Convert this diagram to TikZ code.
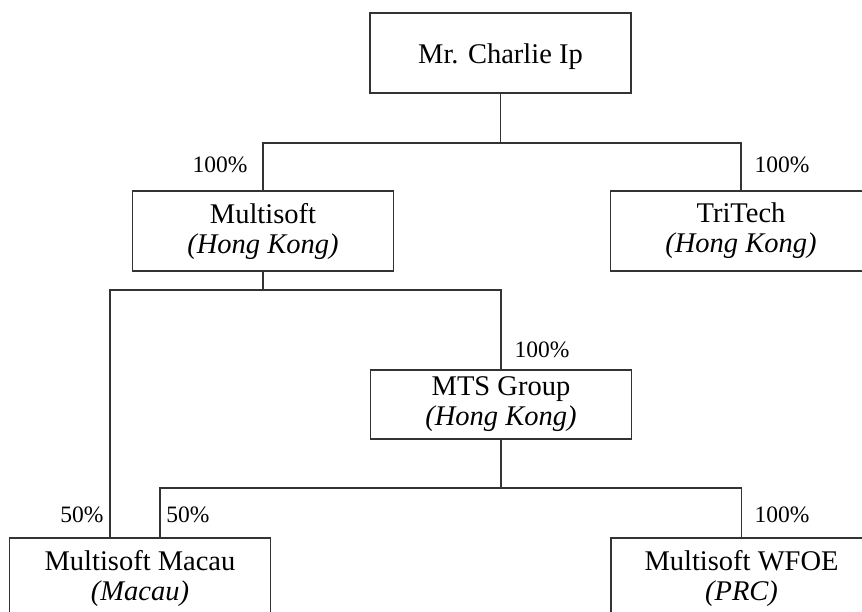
\documentclass[tikz,border=0pt]{standalone}
\usepackage{fontspec}
\setmainfont{Liberation Serif}
\begin{document}
\begin{tikzpicture}[x=1pt,y=-1pt,
  box/.style={draw=black!80,line width=1.2pt,minimum width=261pt,minimum height=80pt,
    align=center,inner sep=0pt,font=\fontsize{28.5}{30}\selectfont},
  pct/.style={inner sep=0pt,font=\fontsize{23.5}{26}\selectfont},
  link/.style={draw=black!80,line width=1.2pt}]
\useasboundingbox (0,0) rectangle (862,611);
\clip (0,0) rectangle (862,611);
\node[box,text height=24pt,text depth=4pt] (charlie) at (500.5,53) {Mr. Charlie Ip};
\node[box] (mshk) at (263,231) {Multisoft\\\textit{(Hong Kong)}};
\node[box] (tritech) at (741,231) {TriTech\\\textit{(Hong Kong)}};
\node[box,minimum height=69pt] (mts) at (501,404.5) {MTS Group\\\textit{(Hong Kong)}};
\node[box] (macau) at (140,578) {Multisoft Macau\\\textit{(Macau)}};
\node[box] (wfoe) at (741.5,578) {Multisoft WFOE\\\textit{(PRC)}};
\coordinate (b1) at (500.5,143);
\coordinate (b2) at (263,290);
\coordinate (b3) at (501,488);
\path[link] (charlie.south) -- (b1);
\path[link] (mshk.north) |- (b1) -| (tritech.north);
\path[link] (mshk.south) -- (b2);
\path[link] ([xshift=-30pt]macau.north) |- (b2) -| (mts.north);
\path[link] (mts.south) -- (b3);
\path[link] ([xshift=20pt]macau.north) |- (b3) -| (wfoe.north);
\node[pct] (p1) at (220,165) {100\%};
\node[pct] (p2) at (782,165) {100\%};
\node[pct] (p3) at (542,350) {100\%};
\node[pct] (p4) at (82,515) {50\%};
\node[pct] (p5) at (188,515) {50\%};
\node[pct] (p6) at (782,515) {100\%};
\end{tikzpicture}
\end{document}
